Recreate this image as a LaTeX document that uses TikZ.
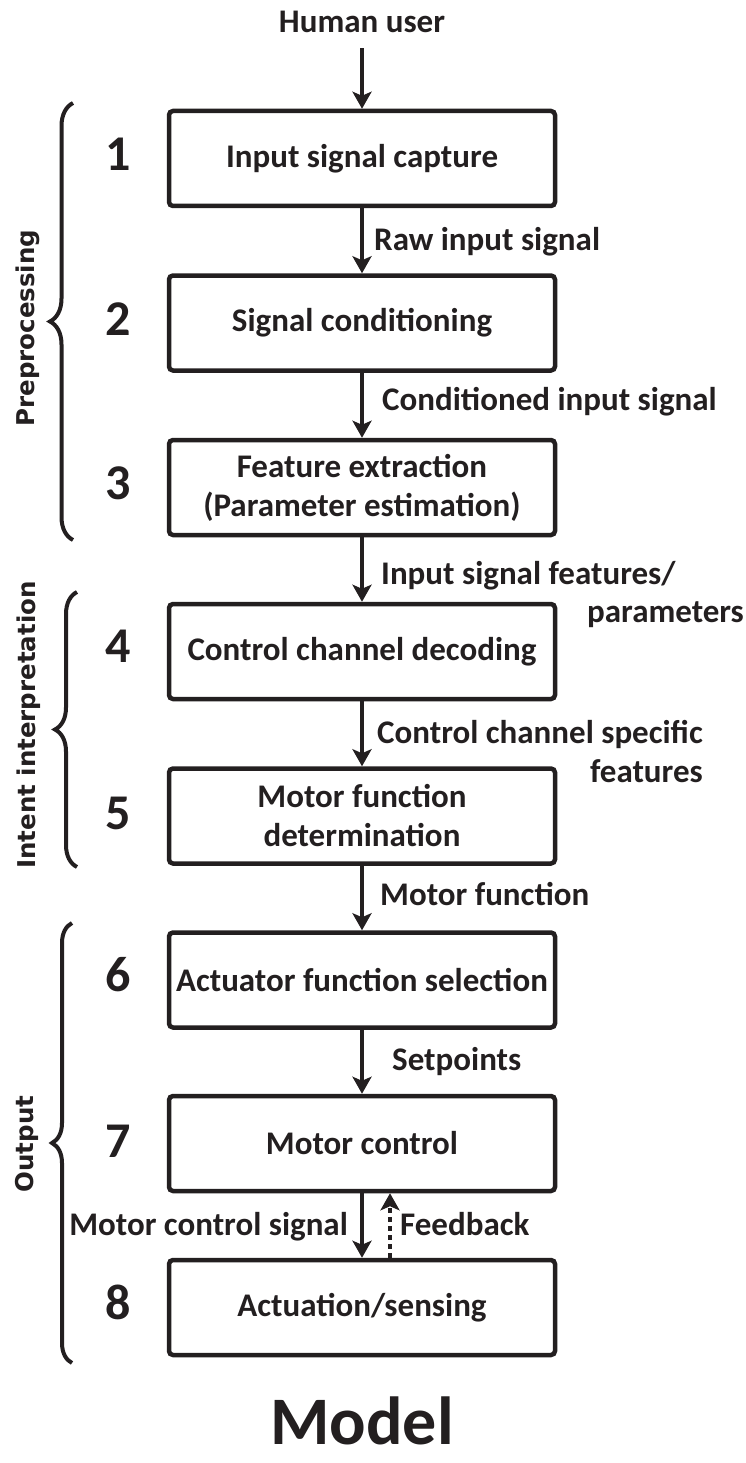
\documentclass[tikz,border=0pt]{standalone}
\usepackage{fontspec}
\setmainfont{Carlito}
\newfontfamily\sidefont{DejaVu Sans}
\usetikzlibrary{arrows.meta,decorations.pathreplacing}
\definecolor{ink}{HTML}{231F20}
\begin{document}
\begin{tikzpicture}[x=1pt,y=1pt,
  stage/.style={draw=ink, line width=4.5pt, rounded corners=4pt,
    minimum width=386pt, minimum height=95pt, align=center,
    font=\bfseries\fontsize{33}{39}\selectfont, text=ink, inner sep=0pt},
  num/.style={font=\bfseries\fontsize{50}{50}\selectfont, text=ink, inner sep=0pt},
  flow/.style={draw=ink, line width=3.3pt,
    -{Stealth[length=17pt,width=19pt,inset=4pt]}},
  back/.style={draw=ink, line width=3.5pt, dash pattern=on 5pt off 4pt,
    -{Stealth[length=17pt,width=19pt,inset=4pt]}},
  lbl/.style={font=\bfseries\fontsize{33}{39}\selectfont, text=ink,
    inner sep=0pt, anchor=base west},
  phase/.style={font=\sidefont\bfseries\fontsize{24.5}{24.5}\selectfont,
    text=ink, rotate=90, inner sep=0pt},
  grp/.style={draw=ink, line width=4pt, decorate,
    decoration={brace, amplitude=#1}}
]
\useasboundingbox (0,0) rectangle (745,-1463);

% source of the chain
\node[font=\bfseries\fontsize{33}{39}\selectfont, text=ink, inner sep=0pt,
  anchor=base] (hu) at (362,-33) {Human user};

% processing stages
\node[stage] (b1) at (362,-158.5) {Input signal capture};
\node[stage] (b2) at (362,-323)   {Signal conditioning};
\node[stage] (b3) at (362,-487.5) {Feature extraction\\(Parameter estimation)};
\node[stage] (b4) at (362,-651.5) {Control channel decoding};
\node[stage] (b5) at (362,-816)   {Motor function\\determination};
\node[stage] (b6) at (362,-980)   {Actuator function selection};
\node[stage] (b7) at (362,-1143.5){Motor control};
\node[stage] (b8) at (362,-1307.5){Actuation/sensing};

% stage numbers
\node[num] (n1) at (118,-154)  {1};
\node[num] (n2) at (118,-319)  {2};
\node[num] (n3) at (118,-483)  {3};
\node[num] (n4) at (118,-646)  {4};
\node[num] (n5) at (118,-813)  {5};
\node[num] (n6) at (118,-975)  {6};
\node[num] (n7) at (118,-1141) {7};
\node[num] (n8) at (118,-1302) {8};

% connectors
\draw[flow, shorten <=15pt] (hu.south) -- (b1);
\draw[flow] (b1) -- (b2);
\draw[flow] (b2) -- (b3);
\draw[flow] (b3) -- (b4);
\draw[flow] (b4) -- (b5);
\draw[flow] (b5) -- (b6);
\draw[flow] (b6) -- (b7);
\draw[flow] (b7) -- (b8);
\draw[back] ([xshift=28pt]b8.north) -- ([xshift=28pt]b7.south);

% connector labels
\node[lbl] (l12) at (374,-251) {Raw input signal};
\node[lbl] (l23) at (382,-410) {Conditioned input signal};
\node[lbl] (l34a) at (381,-584) {Input signal features/};
\node[lbl] (l34b) at (587,-622) {parameters};
\node[lbl] (l45a) at (377,-743) {Control channel specific};
\node[lbl, anchor=base east] (l45b) at ([yshift=-39pt]l45a.base east) {features};
\node[lbl] (l56) at (380,-905) {Motor function};
\node[lbl] (l67) at (392,-1070) {Setpoints};
\node[lbl, anchor=base east] (l78) at (348,-1235) {Motor control signal};
\node[lbl] (l87) at (400,-1235) {Feedback};

% phase groupings
\draw[grp=23pt] (73,-540) -- (73,-103);
\node[phase] (p1) at (28,-328) {Preprocessing};
\draw[grp=22pt] (77,-867) -- (77,-592);
\node[phase] (p2) at (29,-725) {Intent interpretation};
\draw[grp=20pt] (72,-1363) -- (72,-923);
\node[phase] (p3) at (27,-1144) {Output};

% caption
\node[font=\bfseries\fontsize{68}{68}\selectfont, text=ink, inner sep=0pt,
  anchor=base] (title) at (362,-1444) {Model};
\end{tikzpicture}
\end{document}
